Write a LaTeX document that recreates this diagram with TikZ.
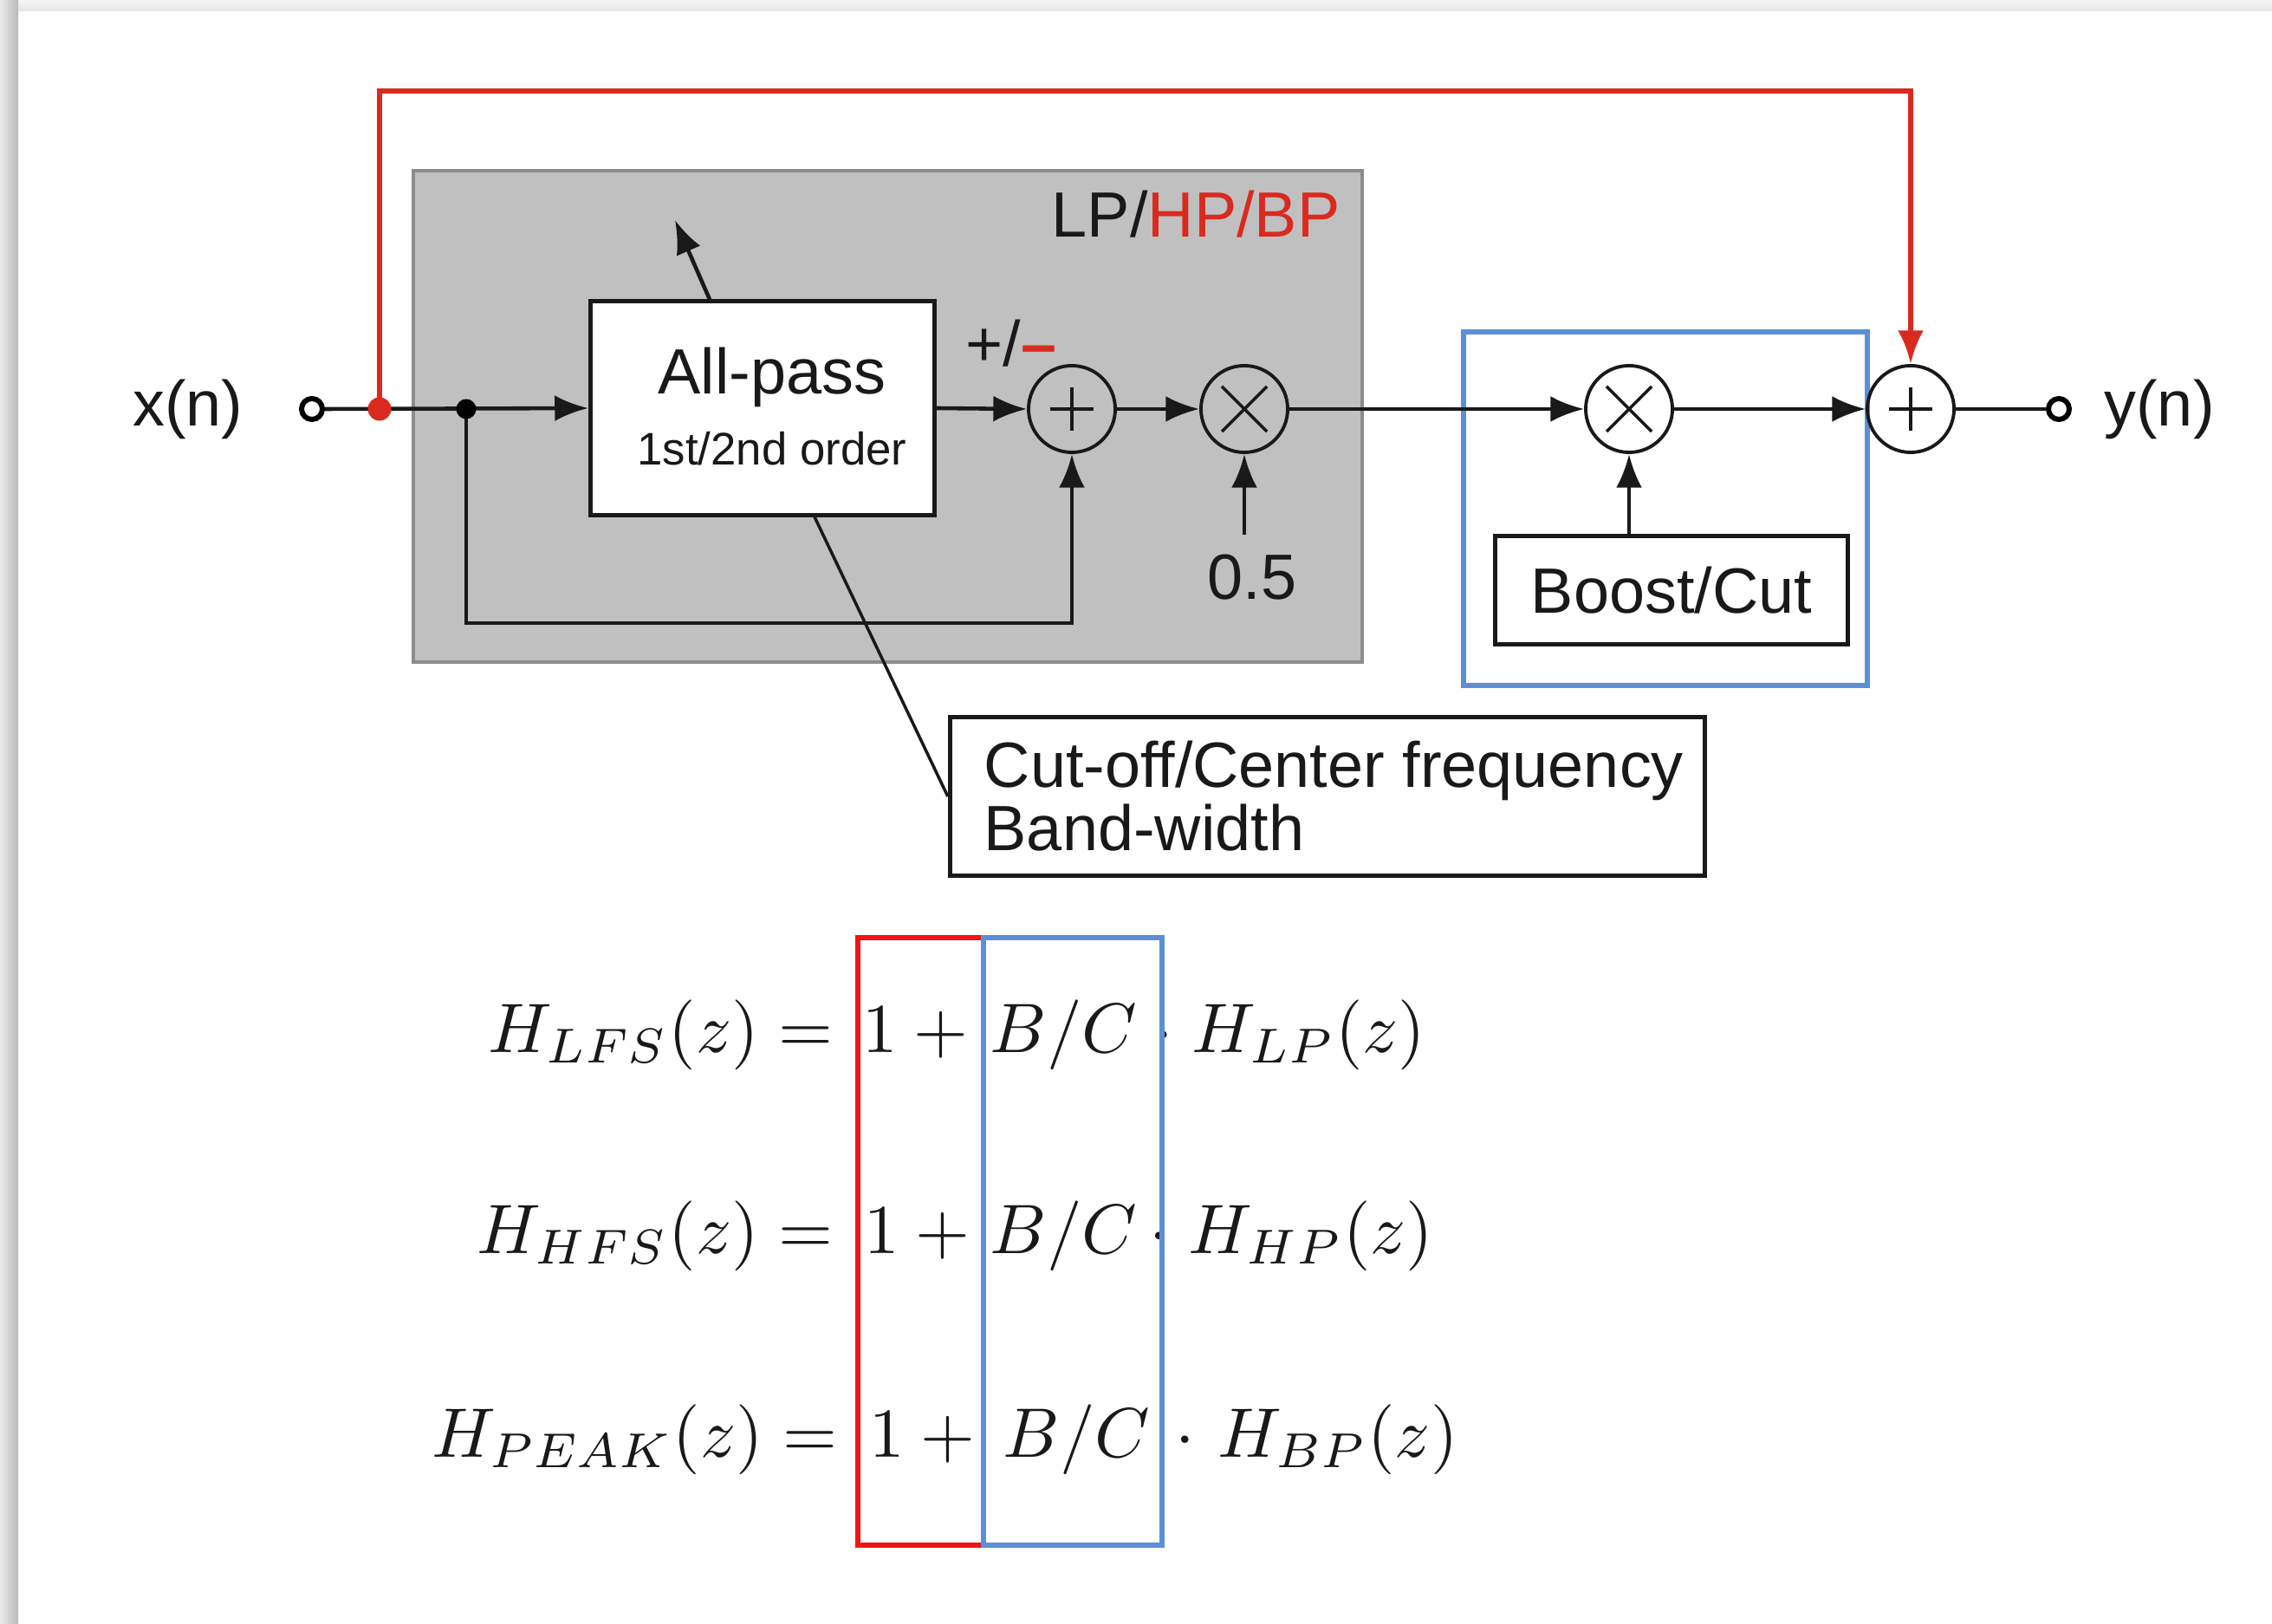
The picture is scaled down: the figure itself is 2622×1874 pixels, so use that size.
\documentclass[tikz,border=0pt]{standalone}
\usepackage{graphicx}
\usepackage[no-math]{fontspec}
\newfontfamily\arialf{Liberation Sans}
\usetikzlibrary{arrows.meta}
\definecolor{dred}{HTML}{D92A1F}
\definecolor{eqred}{HTML}{F01414}
\definecolor{bluebox}{HTML}{5B8FD8}
\definecolor{grayfill}{HTML}{C0C0C0}
\definecolor{grayedge}{HTML}{8C8C8C}
\newcommand{\eqs}[1]{\scalebox{2.3}{$#1$}}
\begin{document}
\begin{tikzpicture}[x=0.01cm,y=-0.01cm,
 ln/.style={line width=1.3pt,draw=black!90},
 arr/.style={ln,-{Latex[length=11pt,width=8.5pt]}},
 rarr/.style={line width=1.7pt,draw=dred,-{Latex[length=11pt,width=8.5pt]}},
 sf/.style={font=\arialf\fontsize{21}{25}\selectfont, text=black!90, inner sep=0},
 blk/.style={draw=black!90,line width=1.4pt,fill=white},
 circ/.style={circle,draw=black!90,line width=1.1pt,minimum size=1cm,inner sep=0},
 sumc/.style={circ, path picture={\draw[line width=1pt] ([xshift=-0.25cm]path picture bounding box.center) -- ([xshift=0.25cm]path picture bounding box.center) ([yshift=-0.25cm]path picture bounding box.center) -- ([yshift=0.25cm]path picture bounding box.center);}},
 mulc/.style={circ, path picture={\draw[line width=1pt] ([shift={(-0.26cm,-0.26cm)}]path picture bounding box.center) -- ([shift={(0.26cm,0.26cm)}]path picture bounding box.center) ([shift={(-0.26cm,0.26cm)}]path picture bounding box.center) -- ([shift={(0.26cm,-0.26cm)}]path picture bounding box.center);}},
 port/.style={circle,draw=black,line width=1.7pt,minimum size=0.24cm,inner sep=0,fill=white},
 eq/.style={inner sep=0, text=black!90},
]
\useasboundingbox (0,0) rectangle (2622,1874);
\fill[white] (0,0) rectangle (2622,1874);
\shade[top color=gray!8, bottom color=gray!20] (0,0) rectangle (2622,13);
\shade[left color=gray!15, right color=gray!55] (0,0) rectangle (21,1874);

% grey filter region and blue gain region
\draw[fill=grayfill, draw=grayedge, line width=1.2pt] (477,197) rectangle (1572,764);
\draw[bluebox, line width=1.7pt] (1689,383) rectangle (2155,791);

% nodes
\node[sf] (xn) at (217,472) {x(n)};
\node[port] (xin) at (360,472) {};
\coordinate (rdp) at (438,472);
\coordinate (jnp) at (538,472);
\node[blk, minimum width=3.97cm, minimum height=2.46cm] (ap) at (880,471) {};
\node[sf] (apt) at (891,435) {All-pass};
\node[sf, font=\arialf\fontsize{15}{18}\selectfont] (apo2) at (891,518) {1st/2nd order};
\node[sumc] (s1) at (1237,472) {};
\node[mulc] (m1) at (1436,472) {};
\node[mulc] (m2) at (1880,472) {};
\node[sumc] (s2) at (2205,472) {};
\node[blk, sf, minimum width=4.06cm, minimum height=1.25cm] (bc) at (1929,681) {Boost/Cut};
\node[blk, minimum width=8.71cm, minimum height=1.82cm] (co) at (1532,919) {};
\node[sf, font=\arialf\fontsize{21}{20.8}\selectfont, anchor=west, align=left] (cot) at (1135,919) {Cut-off/Center frequency\\Band-width};
\node[sf] (half) at (1445,666) {0.5};
\node[sf, anchor=east] (lhb) at (1547,247) {LP/\textcolor{dred}{HP/BP}};
\node[sf] (pm) at (1167,396) {+/\textcolor{dred}{\textbf{–}}};
\node[port] (yout) at (2376,472) {};
\node[sf] (yn) at (2492,472) {y(n)};
\coordinate (fb) at (1237,719);
\coordinate (hin) at (1436,617);
\coordinate (rtop) at (2205,105);
\coordinate (apout) at (779,254);

% connectors
\draw[arr] (xin.east) -- (ap.west);
\draw[arr] (jnp) |- (fb) -- (s1.south);
\draw[arr] (ap.east) -- (s1.west);
\draw[arr] (s1.east) -- (m1.west);
\draw[arr] (hin) -- (m1.south);
\draw[arr] (m1.east) -- (m2.west);
\draw[arr] (m2.east) -- (s2.west);
\draw[arr] (bc.north -| m2) -- (m2.south);
\draw[ln] (s2.east) -- (yout.west);
\draw[arr] ([xshift=-0.61cm]ap.north) -- (apout);
\draw[ln, line width=1pt] ([xshift=0.60cm]ap.south) -- (co.west);
\node[circle, fill=dred, minimum size=0.27cm, inner sep=0] (rd) at (rdp) {};
\draw[rarr] (rd.center) |- (rtop) -- (s2.north);
\node[circle, fill=black, minimum size=0.23cm, inner sep=0] (jn) at (jnp) {};

% equations
\node[eq,anchor=base east] (l1) at (962,1214) {\eqs{H_{LFS}(z) =}};
\node[eq,anchor=base west] (o1) at (995,1214) {\eqs{1+{}}};
\node[eq,anchor=base west] (b1) at (1142,1214) {\eqs{B/C}};
\node[eq,anchor=base] (d1) at (1343,1214) {\eqs{\cdot}};
\node[eq,anchor=base west] (h1) at (1375,1214) {\eqs{H_{LP}(z)}};

\node[eq,anchor=base east] (l2) at (962,1446) {\eqs{H_{HFS}(z) =}};
\node[eq,anchor=base west] (o2) at (997,1446) {\eqs{1+{}}};
\node[eq,anchor=base west] (b2) at (1142,1446) {\eqs{B/C}};
\node[eq,anchor=base] (d2) at (1338,1446) {\eqs{\cdot}};
\node[eq,anchor=base west] (h2) at (1371,1446) {\eqs{H_{HP}(z)}};

\node[eq,anchor=base east] (l3) at (967,1681) {\eqs{H_{PEAK}(z) =}};
\node[eq,anchor=base west] (o3) at (1003,1681) {\eqs{1+{}}};
\node[eq,anchor=base west] (b3) at (1157,1681) {\eqs{B/C}};
\node[eq,anchor=base] (d3) at (1368,1681) {\eqs{\cdot}};
\node[eq,anchor=base west] (h3) at (1405,1681) {\eqs{H_{BP}(z)}};

\draw[eqred, line width=1.7pt] (990,1082) rectangle (1135,1783);
\draw[bluebox, line width=1.7pt] (1135,1082) rectangle (1341,1783);
\end{tikzpicture}
\end{document}
